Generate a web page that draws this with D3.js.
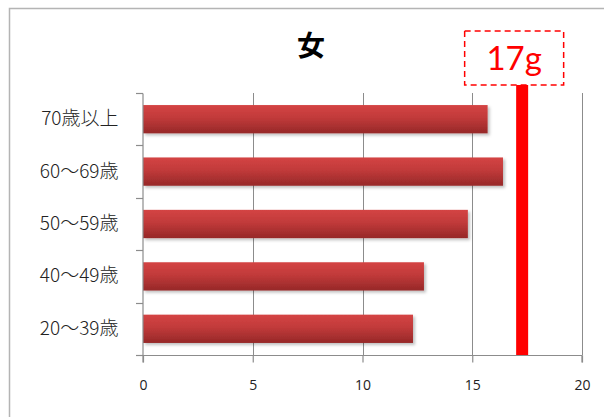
<!DOCTYPE html>
<html>
<head>
<meta charset="utf-8">
<script src="https://cdn.jsdelivr.net/npm/d3@7"></script>
<style>
  body { margin: 0; background: #fff; }
  svg { display: block; }
</style>
</head>
<body>
<script>
const ageGroups = ["70歳以上", "60～69歳", "50～59歳", "40～49歳", "20～39歳"];
const saltValues = [15.7, 16.4, 14.8, 12.8, 12.3];
const xTicks = [0, 5, 10, 15, 20];
const targetValue = 17;
const targetLabel = "17g";
const chartTitle = "女";

const width = 604;
const height = 417;
const margin = { top: 93, right: 22, bottom: 62, left: 143 };

const svg = d3.select("body").append("svg")
  .attr("width", width)
  .attr("height", height);

const defs = svg.append("defs");
const grad = defs.append("linearGradient")
  .attr("id", "barGrad")
  .attr("x1", 0).attr("y1", 0).attr("x2", 0).attr("y2", 1);
grad.append("stop").attr("offset", "0%").attr("stop-color", "#d44444");
grad.append("stop").attr("offset", "45%").attr("stop-color", "#c13a3a");
grad.append("stop").attr("offset", "100%").attr("stop-color", "#962828");

const shadow = defs.append("filter").attr("id", "shadow")
  .attr("x", "-5%").attr("y", "-20%").attr("width", "115%").attr("height", "160%");
shadow.append("feDropShadow")
  .attr("dx", 2).attr("dy", 2).attr("stdDeviation", 1.5)
  .attr("flood-color", "#000").attr("flood-opacity", 0.25);

// outer frame
svg.append("path")
  .attr("d", `M9.5,${height + 2} V8.5 H${width + 2}`)
  .attr("fill", "none")
  .attr("stroke", "#b4b4b4")
  .attr("stroke-width", 1.5);

const x = d3.scaleLinear()
  .domain([0, 20])
  .range([margin.left, width - margin.right]);

const y = d3.scaleBand()
  .domain(ageGroups)
  .range([margin.top, height - margin.bottom])
  .paddingInner(0.46)
  .paddingOuter(0.23);

const g = svg.append("g");

// vertical gridlines
g.selectAll("line.grid")
  .data(xTicks.slice(1))
  .join("line")
  .attr("class", "grid")
  .attr("x1", d => Math.round(x(d)) + 0.5)
  .attr("x2", d => Math.round(x(d)) + 0.5)
  .attr("y1", margin.top)
  .attr("y2", height - margin.bottom)
  .attr("stroke", "#8c8c8c")
  .attr("stroke-width", 1);

// bars
g.selectAll("rect.bar")
  .data(saltValues)
  .join("rect")
  .attr("class", "bar")
  .attr("x", x(0))
  .attr("y", (d, i) => y(ageGroups[i]))
  .attr("width", d => x(d) - x(0))
  .attr("height", y.bandwidth())
  .attr("fill", "url(#barGrad)")
  .attr("filter", "url(#shadow)");

// y axis (category)
const yAxis = d3.axisLeft(y).tickSize(0).tickPadding(24);
const yg = svg.append("g")
  .attr("transform", `translate(${Math.round(x(0)) - 0.5},0)`)
  .call(yAxis);
yg.select(".domain").attr("stroke", "#8c8c8c").attr("stroke-width", 1.2);
yg.selectAll("text")
  .attr("font-family", "'Noto Sans CJK JP', 'Noto Sans', sans-serif")
  .attr("font-weight", 300)
  .attr("font-size", 19)
  .attr("fill", "#222");

// y boundary ticks
const bounds = ageGroups.map(d => y(d) - y.step() * y.paddingInner() / 2);
bounds.push(height - margin.bottom);
bounds[0] = margin.top;
svg.append("g").selectAll("line")
  .data(bounds)
  .join("line")
  .attr("x1", x(0) - 7)
  .attr("x2", x(0))
  .attr("y1", d => Math.round(d) + 0.5)
  .attr("y2", d => Math.round(d) + 0.5)
  .attr("stroke", "#8c8c8c")
  .attr("stroke-width", 1.2);

// x axis
const xAxis = d3.axisBottom(x).tickValues(xTicks).tickSize(7).tickPadding(18);
const xg = svg.append("g")
  .attr("transform", `translate(0,${height - margin.bottom + 0.5})`)
  .call(xAxis);
xg.select(".domain").attr("stroke", "#8c8c8c").attr("stroke-width", 1.2)
  .attr("d", `M${x(0)},7V0H${x(20)}V7`);
xg.selectAll(".tick line").attr("stroke", "#8c8c8c").attr("stroke-width", 1.2);
xg.selectAll("text")
  .attr("font-family", "'Open Sans', sans-serif")
  .attr("font-size", 14)
  .attr("fill", "#222");

// target line
const labelBox = { w: 99, h: 54, top: 31 };
const lineX = x(targetValue);
svg.append("rect")
  .attr("x", lineX)
  .attr("y", labelBox.top + labelBox.h)
  .attr("width", 12)
  .attr("height", height - margin.bottom - labelBox.top - labelBox.h)
  .attr("fill", "#ff0000");

svg.append("rect")
  .attr("x", lineX + 6 - labelBox.w / 2 - 8)
  .attr("y", labelBox.top)
  .attr("width", labelBox.w)
  .attr("height", labelBox.h)
  .attr("fill", "#fff")
  .attr("stroke", "#ff0000")
  .attr("stroke-width", 1.5)
  .attr("stroke-dasharray", "6,4");

svg.append("text")
  .attr("x", lineX + 6 - 8)
  .attr("y", labelBox.top + 39)
  .attr("text-anchor", "middle")
  .attr("font-family", "Lato, 'Open Sans', sans-serif")
  .attr("font-size", 33)
  .attr("fill", "#ff0000")
  .text(targetLabel);

// title
svg.append("text")
  .attr("x", 311)
  .attr("y", 56)
  .attr("text-anchor", "middle")
  .attr("font-family", "'Noto Sans CJK JP', sans-serif")
  .attr("font-weight", "bold")
  .attr("font-size", 28)
  .attr("fill", "#000")
  .text(chartTitle);
</script>
</body>
</html>
